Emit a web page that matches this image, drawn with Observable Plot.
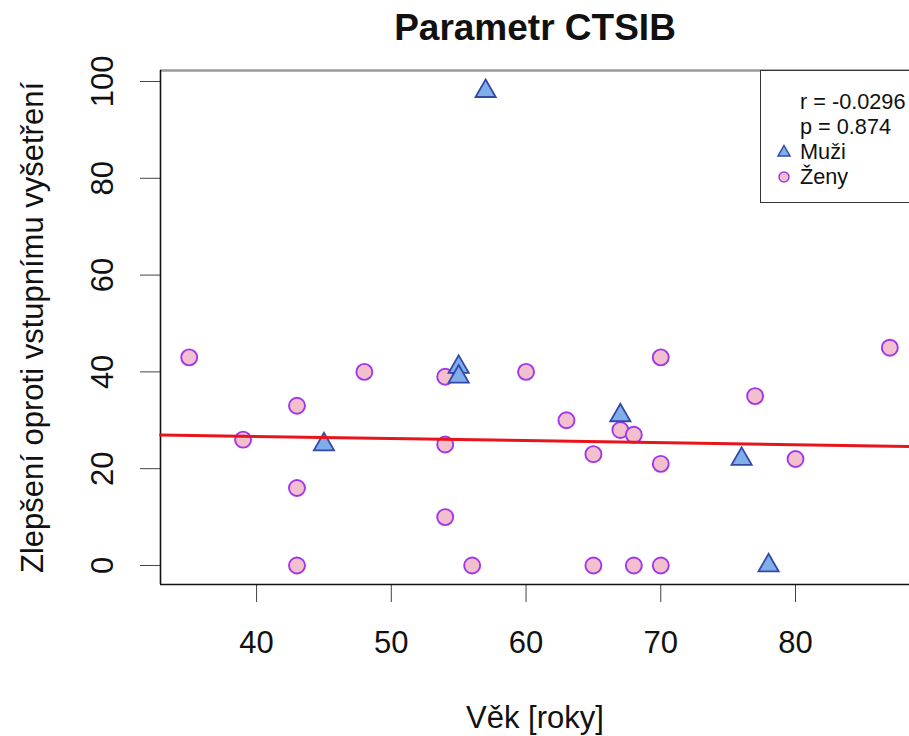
<!DOCTYPE html>
<html>
<head>
<meta charset="utf-8">
<script src="https://cdn.jsdelivr.net/npm/d3@7"></script>
<script src="https://cdn.jsdelivr.net/npm/@observablehq/plot@0.6"></script>
<style>
  html, body { margin: 0; padding: 0; background: white; overflow: hidden; }
  #wrap { position: relative; width: 909px; height: 736px; overflow: hidden; }
  #legend {
    position: absolute; left: 760px; top: 70px; width: 170px; height: 133px;
    border: 1.5px solid #333; background: white; box-sizing: border-box;
    font-family: "Liberation Sans", Arial, sans-serif; font-size: 21.7px; color: #111;
  }
  #legend .row { position: absolute; left: 39px; height: 25px; line-height: 25px; white-space: nowrap; }
  #legend svg { position: absolute; left: 13px; }
</style>
</head>
<body>
<div id="wrap"></div>
<script>
// Men (triangles)
const menAge = [57, 45, 55, 55, 67, 76, 78];
const menImp = [98, 25, 41, 39, 31, 22, 0];
// Women (circles)
const womenAge = [35, 39, 43, 43, 43, 48, 54, 54, 54, 56, 60, 63, 65, 65, 67, 68, 68, 70, 70, 70, 77, 80, 87];
const womenImp = [43, 26, 33, 16, 0, 40, 39, 25, 10, 0, 40, 30, 23, 0, 28, 27, 0, 43, 21, 0, 35, 22, 45];
// Regression line read at the plot edges
const regAge = [32.87, 88.46];
const regImp = [26.97, 24.6];
// Ticks
const xTicks = [40, 50, 60, 70, 80];
const yTicks = [0, 20, 40, 60, 80, 100];
const legendLines = ["r = -0.0296", "p = 0.874"];
const seriesNames = ["Muži", "Ženy"];
const title = "Parametr CTSIB";
const xLabel = "Věk [roky]";
const yLabel = "Zlepšení oproti vstupnímu vyšetření";

const xDomain = [32.87, 88.46];
const yDomain = [-3.93, 102.27];

const men = menAge.map((a, i) => ({age: a, imp: menImp[i]}));
const women = womenAge.map((a, i) => ({age: a, imp: womenImp[i]}));
const reg = regAge.map((a, i) => ({age: a, imp: regImp[i]}));

const menFill = "#80aeea", menStroke = "#3348a8";
const womenFill = "#f2bfcc", womenStroke = "#a236ee";

const font = "Liberation Sans, Arial, sans-serif";
const chart = Plot.plot({
  width: 909, height: 736,
  marginLeft: 160, marginRight: 0, marginTop: 70, marginBottom: 152,
  x: {domain: xDomain, ticks: xTicks, tickSize: 18, tickFormat: () => "", label: null},
  y: {domain: yDomain, ticks: yTicks, tickSize: 20, tickFormat: () => "", label: null},
  style: {fontFamily: font, fontSize: "31px", background: "white", color: "#444", overflow: "visible"},
  marks: [
    Plot.ruleY([yDomain[1]], {stroke: "#999", strokeWidth: 2.5}),
    Plot.ruleX([xDomain[0]], {stroke: "#111", strokeWidth: 1.6}),
    Plot.ruleY([yDomain[0]], {stroke: "#111", strokeWidth: 1.6}),
    Plot.dot(women, {x: "age", y: "imp", r: 8, fill: womenFill, stroke: womenStroke, strokeWidth: 1.9}),
    Plot.dot(men, {x: "age", y: "imp", symbol: "triangle", r: 7.5, fill: menFill, stroke: menStroke, strokeWidth: 1.8}),
    Plot.line(reg, {x: "age", y: "imp", stroke: "#e8141c", strokeWidth: 3}),
    Plot.text(yTicks, {y: d => d, text: d => String(d), frameAnchor: "left", dx: -57, rotate: -90,
      textAnchor: "middle", lineAnchor: "middle", fontSize: 31, fill: "#111"}),
    Plot.text(xTicks, {x: d => d, text: d => String(d), frameAnchor: "bottom", dy: 59,
      textAnchor: "middle", lineAnchor: "middle", fontSize: 31, fill: "#111"}),
    Plot.text([title], {text: d => d, frameAnchor: "top", dy: -42, textAnchor: "middle", lineAnchor: "middle",
      fontSize: 37, fontWeight: "bold", fill: "#111"}),
    Plot.text([xLabel], {text: d => d, frameAnchor: "bottom", dy: 134, textAnchor: "middle", lineAnchor: "middle",
      fontSize: 31, fill: "#111"}),
    Plot.text([yLabel], {text: d => d, frameAnchor: "left", dx: -127, rotate: -90, textAnchor: "middle", lineAnchor: "middle",
      fontSize: 31, fill: "#111"})
  ]
});
const wrap = document.getElementById("wrap");
wrap.appendChild(chart);

// Legend
const lg = document.createElement("div");
lg.id = "legend";
const rowsTop = [18, 43, 68, 93];
legendLines.forEach((t, i) => {
  const r = document.createElement("div");
  r.className = "row"; r.style.top = rowsTop[i] + "px"; r.textContent = t;
  lg.appendChild(r);
});
seriesNames.forEach((t, i) => {
  const r = document.createElement("div");
  r.className = "row"; r.style.top = rowsTop[i + 2] + "px"; r.textContent = t;
  lg.appendChild(r);
  const s = document.createElementNS("http://www.w3.org/2000/svg", "svg");
  s.setAttribute("width", 20); s.setAttribute("height", 20);
  s.style.top = (rowsTop[i + 2] + 2.5) + "px";
  if (i === 0) {
    s.innerHTML = '<path d="M10,3.5L16,14L4,14Z" fill="' + menFill + '" stroke="' + menStroke + '" stroke-width="1.5"/>';
  } else {
    s.innerHTML = '<circle cx="10" cy="10" r="5" fill="' + womenFill + '" stroke="' + womenStroke + '" stroke-width="1.5"/>';
  }
  lg.appendChild(s);
});
wrap.appendChild(lg);
</script>
</body>
</html>
